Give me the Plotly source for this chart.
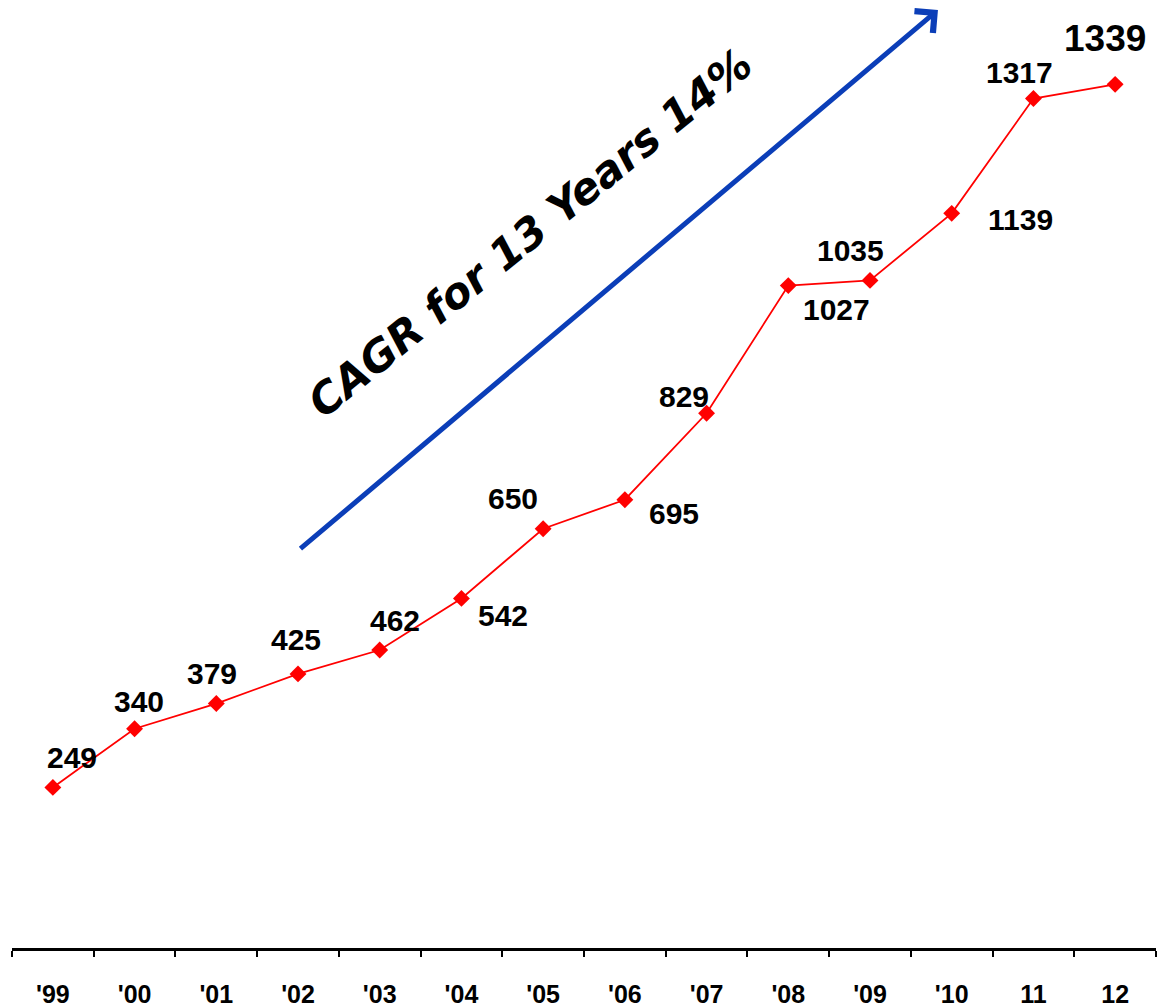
import plotly.graph_objects as go

years = ["'99", "'00", "'01", "'02", "'03", "'04", "'05", "'06", "'07", "'08", "'09", "'10", "11", "12"]
values = [249, 340, 379, 425, 462, 542, 650, 695, 829, 1027, 1035, 1139, 1317, 1339]

# label offsets in pixels (style / placement only)
label_dx = [19, 4, -4, -2, 15, 42, -30, 49, -23, 48, -20, 69, -14, -10]
label_dy = [30, 27, 30, 34, 30, -17, 30, -14, 17, -24, 30, -6, 26, 46]
label_size = [30, 30, 30, 30, 30, 30, 30, 30, 30, 30, 30, 30, 30, 37]

FONT = "Arial, Liberation Sans, sans-serif"

fig = go.Figure()
fig.add_trace(go.Scatter(
    x=years, y=values, mode="lines+markers",
    line=dict(color="#ff0000", width=1.8),
    marker=dict(symbol="diamond", size=13, color="#ff0000"),
    showlegend=False, hoverinfo="skip",
))

for i, v in enumerate(values):
    fig.add_annotation(
        x=i, y=v, xref="x", yref="y", text=f"<b>{v}</b>", showarrow=False,
        xanchor="center", yanchor="middle",
        xshift=label_dx[i], yshift=label_dy[i],
        font=dict(family=FONT, size=label_size[i], color="black"),
    )

# growth arrow
fig.add_annotation(
    x=0.8094, y=1.0388, xref="paper", yref="paper",
    ax=-639, ay=540, axref="pixel", ayref="pixel",
    showarrow=True, arrowhead=4, arrowsize=1.1, arrowwidth=5,
    arrowcolor="#0b3eb8", text="",
)

fig.add_annotation(
    x=0.4528, y=0.792, xref="paper", yref="paper",
    xanchor="center", yanchor="middle",
    text="<b><i>CAGR for 13 Years 14%</i></b>", showarrow=False,
    textangle=-39,
    font=dict(family="DejaVu Sans, Verdana, sans-serif", size=43, color="black"),
)

fig.update_layout(
    width=1165, height=1008,
    margin=dict(l=12, r=9, t=45, b=60, autoexpand=False),
    plot_bgcolor="white", paper_bgcolor="white",
    font=dict(family=FONT),
)
fig.update_xaxes(
    type="category", showgrid=False, zeroline=False, automargin=False,
    showline=True, linecolor="black", linewidth=3,
    ticks="outside", tickson="boundaries", ticklen=6, tickwidth=2, tickcolor="black",
    tickfont=dict(family=FONT, size=25, color="black"),
    tickprefix="<b>", ticksuffix="</b>",
    ticklabelstandoff=22,
    range=[-0.5, 13.5],
)
fig.update_yaxes(range=[0, 1400], visible=False, showgrid=False, zeroline=False, automargin=False)

fig.write_html(
    "out.html",
    config={"displayModeBar": False},
    post_script="document.body.style.margin='0';document.body.style.overflow='hidden';",
)
